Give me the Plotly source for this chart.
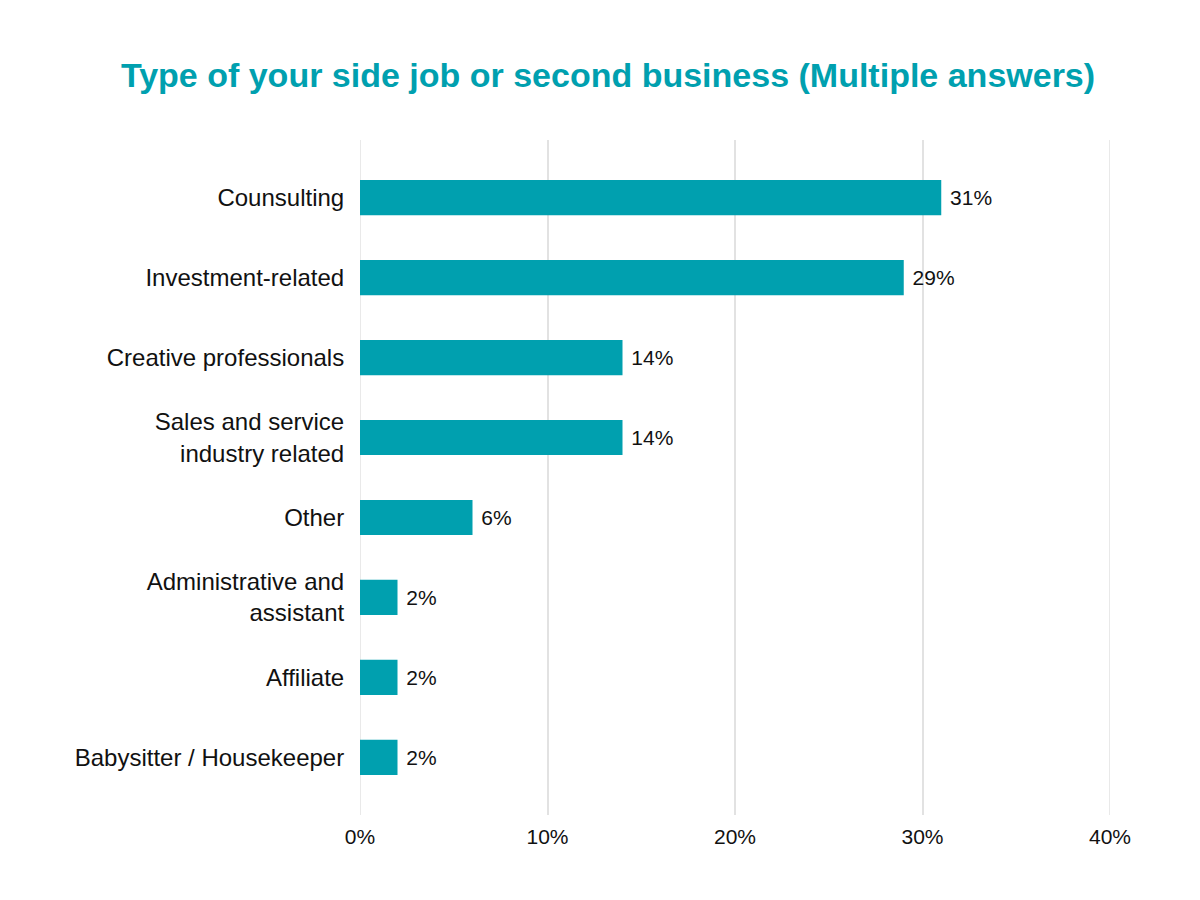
import plotly.graph_objects as go

categories = ["Counsulting", "Investment-related", "Creative professionals",
              "Sales and service<br>industry related", "Other",
              "Administrative and<br>assistant", "Affiliate",
              "Babysitter / Housekeeper"]
values = [31, 29, 14, 14, 6, 2, 2, 2]
tick_vals = [0, 10, 20, 30, 40]
tick_text = ["0%", "10%", "20%", "30%", "40%"]

teal = "#00A0AF"
grid = "#e2e2e2"

fig = go.Figure(go.Bar(
    x=values,
    y=categories,
    orientation="h",
    marker=dict(color=teal, line=dict(width=0)),
    width=0.44,
    text=[f"\u00a0{v}%" for v in values],
    textposition="outside",
    textfont=dict(size=21, color="#111111"),
    cliponaxis=False,
))

# plotly drops grid lines sitting on the range edges, so draw those two by hand
for xv in (tick_vals[0], tick_vals[-1]):
    fig.add_shape(type="line", xref="x", yref="paper", x0=xv, x1=xv, y0=0, y1=1,
                  line=dict(color=grid, width=1.5), layer="below")

fig.update_layout(
    width=1200, height=900,
    paper_bgcolor="white", plot_bgcolor="white",
    font=dict(family="Liberation Sans, Arial, sans-serif", color="#111111"),
    title=dict(text="<b>Type of your side job or second business (Multiple answers)</b>",
               x=0.5, xanchor="center", y=0.9256, yanchor="middle",
               font=dict(size=34, color=teal)),
    margin=dict(l=352, r=98, t=132, b=93),
    showlegend=False,
)

fig.update_xaxes(
    range=[0, 40], tickvals=tick_vals, ticktext=tick_text,
    showgrid=True, gridcolor=grid, gridwidth=1.5,
    zeroline=False, showline=False,
    ticks="outside", ticklen=3, tickcolor="white",
    tickfont=dict(size=21),
)
fig.update_yaxes(
    autorange=False, range=[7.72, -0.72],
    showgrid=False, zeroline=False, showline=False,
    ticks="outside", ticklen=10, tickcolor="white",
    tickfont=dict(size=24),
)

fig.write_html("out.html")
